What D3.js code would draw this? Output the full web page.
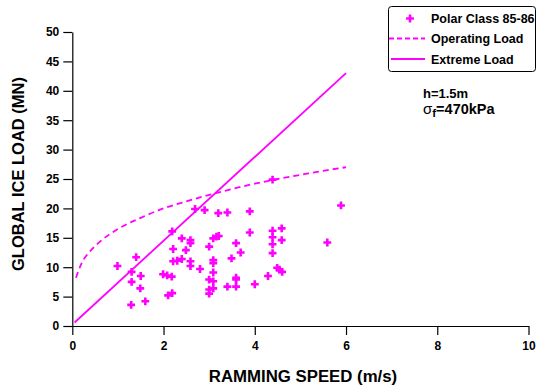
<!DOCTYPE html>
<html><head><meta charset="utf-8">
<script src="https://cdn.jsdelivr.net/npm/d3@7"></script>
<style>body{margin:0;background:#fff}svg{display:block;font-family:"Liberation Sans",Arial,sans-serif}</style>
</head><body><svg id="c" width="537" height="389"></svg>
<script>
const xTicks=[0,2,4,6,8,10];
const yTicks=[0,5,10,15,20,25,30,35,40,45,50];
const polarSpeed=[0.99,1.40,1.30,1.30,1.50,1.49,1.29,1.60,2.19,2.21,2.21,2.30,2.40,1.99,2.08,2.18,2.10,2.19,2.69,2.90,3.20,3.40,3.89,3.89,2.40,2.59,2.59,2.49,2.59,2.59,2.80,3.09,3.16,3.21,3.00,3.09,3.09,3.09,3.00,3.09,3.00,3.09,3.00,3.59,3.69,3.49,3.59,3.59,3.40,3.59,4.00,4.29,4.39,5.89,4.39,4.59,4.39,4.59,4.39,4.39,5.59,4.49,4.54,4.60];
const polarLoad=[10.2,11.7,9.2,7.5,8.5,6.4,3.6,4.2,16.1,13.1,11.0,11.1,11.4,8.8,8.6,8.4,5.2,5.6,19.9,19.7,19.2,19.3,19.5,15.9,14.9,14.6,14.1,12.9,11.0,10.2,9.7,14.9,15.2,15.3,13.5,11.2,10.7,9.1,7.9,7.6,6.2,6.4,5.5,14.1,12.5,11.5,8.2,7.9,6.7,6.7,7.1,8.5,24.9,20.5,16.2,16.6,15.1,14.6,13.9,12.4,14.2,9.9,9.6,9.2];
const opSpeed=[0.08,0.2,0.4,0.6,0.8,1,1.5,2,2.5,3,3.5,4,4.5,5,5.5,6];
const opLoad=[8.2,10.6,12.8,14.3,15.5,16.5,18.4,20.0,21.2,22.3,23.3,24.2,25.0,25.7,26.4,27.0];
const exSpeed=[0.05,6];
const exLoad=[0.6,43];
const legendLabels=["Polar Class 85-86","Operating Load","Extreme Load"];

const col="#ff00ff";
const svg=d3.select("#c");
const x=d3.scaleLinear().domain([0,10]).range([72.3,528.5]);
const y=d3.scaleLinear().domain([0,50]).range([326,32]);

const xa=svg.append("g").attr("transform","translate(0,326)")
 .call(d3.axisBottom(x).tickValues(xTicks).tickSize(9).tickSizeOuter(0).tickPadding(6));
const ya=svg.append("g").attr("transform","translate(72.3,0)")
 .call(d3.axisLeft(y).tickValues(yTicks).tickSize(9).tickSizeOuter(0).tickPadding(4));
[xa,ya].forEach(a=>{a.selectAll("path,line").attr("stroke","#000").attr("stroke-width",1.2);
 a.selectAll("text").attr("font-size",12).attr("font-weight","bold").attr("fill","#000").attr("font-family","Liberation Sans, Arial, sans-serif");});

const line=d3.line().x(d=>x(d[0])).y(d=>y(d[1]));
svg.append("path").datum(opSpeed.map((s,i)=>[s,opLoad[i]]))
 .attr("d",line.curve(d3.curveMonotoneX)).attr("fill","none").attr("stroke",col).attr("stroke-width",1.8).attr("stroke-dasharray","6,4");
svg.append("path").datum(exSpeed.map((s,i)=>[s,exLoad[i]]))
 .attr("d",d3.line().x(d=>x(d[0])).y(d=>y(d[1]))).attr("fill","none").attr("stroke",col).attr("stroke-width",1.8);

const cross=d3.symbol().type(d3.symbolCross).size(34);
svg.append("g").selectAll("path").data(polarSpeed.map((s,i)=>[s,polarLoad[i]])).join("path")
 .attr("transform",d=>`translate(${x(d[0])},${y(d[1])})`).attr("d",cross).attr("fill",col);

// axis titles
svg.append("text").attr("x",303).attr("y",382).attr("text-anchor","middle").attr("font-size",16.8).attr("font-weight","bold").text("RAMMING SPEED (m/s)");
svg.append("text").attr("transform","translate(24,174) rotate(-90)").attr("text-anchor","middle").attr("font-size",16.5).attr("font-weight","bold").text("GLOBAL ICE LOAD (MN)");

// legend
const lg=svg.append("g");
lg.append("rect").attr("x",388.5).attr("y",6.5).attr("width",147).attr("height",65).attr("rx",3).attr("fill","#fff").attr("stroke","#000").attr("stroke-width",1);
const rows=[18.5,38.5,59];
lg.append("path").attr("transform",`translate(410,${rows[0]})`).attr("d",cross).attr("fill",col);
lg.append("line").attr("x1",389).attr("x2",425).attr("y1",rows[1]).attr("y2",rows[1]).attr("stroke",col).attr("stroke-width",1.8).attr("stroke-dasharray","5,3");
lg.append("line").attr("x1",391).attr("x2",425).attr("y1",rows[2]).attr("y2",rows[2]).attr("stroke",col).attr("stroke-width",1.8);
legendLabels.forEach((t,i)=>lg.append("text").attr("x",431).attr("y",rows[i]+4.5).attr("font-size",12.5).attr("font-weight","bold").text(t));

// annotation
svg.append("text").attr("x",423).attr("y",98).attr("font-size",13).attr("font-weight","bold").text("h=1.5m");
const s=svg.append("text").attr("x",423).attr("y",114).attr("font-size",14.5).attr("font-weight","bold");
s.append("tspan").attr("font-weight","normal").attr("font-size",15).text("σ");
s.append("tspan").attr("font-size",11.5).attr("dy",3).text("f");
s.append("tspan").attr("dy",-3).text("=470kPa");
</script></body></html>
